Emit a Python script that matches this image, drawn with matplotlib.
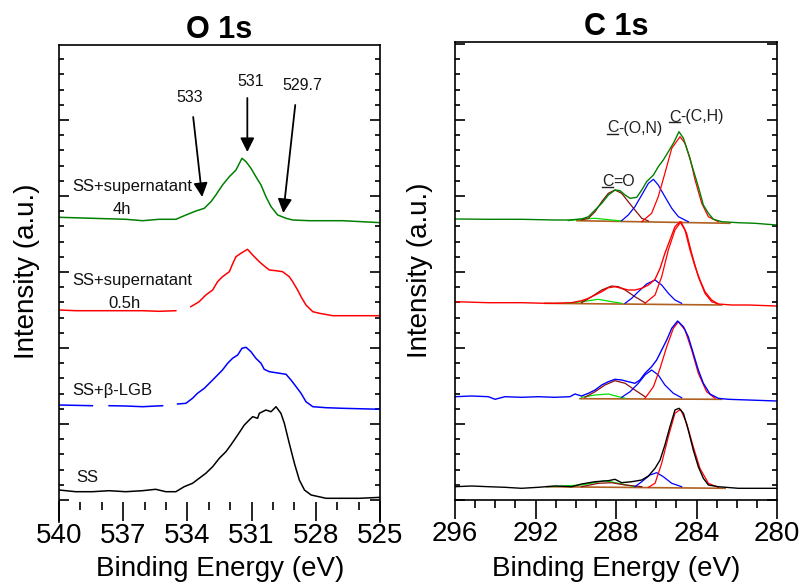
import numpy as np
import matplotlib
matplotlib.use("Agg")
import matplotlib.pyplot as plt
from matplotlib.lines import Line2D

plt.rcParams['font.family'] = ['Liberation Sans', 'DejaVu Sans']

# ---------------- O 1s spectra (stacked, a.u.) ----------------
o_ss_4h_E = [540.0, 538.44, 536.88, 536.10, 535.32, 534.54, 534.07, 533.60, 533.21, 532.90,
             532.67, 532.36, 532.04, 531.73, 531.45, 531.26, 531.03, 530.80, 530.56, 530.33,
             530.09, 529.78, 529.39, 529.08, 528.30, 526.74, 524.95]
o_ss_4h_I = [284.7, 283.7, 282.7, 281.3, 282.7, 282.7, 287.0, 291.0, 293.7, 300.3,
             307.0, 317.0, 325.3, 332.0, 343.7, 340.3, 333.7, 325.3, 317.0, 305.3,
             295.3, 287.0, 283.7, 282.0, 281.3, 281.3, 279.3]

o_ss_05h_E = [540.0, 539.22, 538.44, 537.66, 536.88, 536.10, 535.32, 534.54, 534.30, 533.84,
              533.45, 533.14, 532.82, 532.59, 532.36, 532.04, 531.89, 531.73, 531.50, 531.19,
              530.95, 530.64, 530.41, 530.17, 529.86, 529.55, 529.24, 529.08, 528.85, 528.69,
              528.46, 528.14, 527.83, 527.21, 524.95]
o_ss_05h_I = [192.0, 191.3, 191.3, 191.3, 191.3, 191.3, 190.7, 191.3, np.nan, 195.3,
              200.3, 207.0, 212.0, 220.3, 225.3, 230.3, 238.0, 245.3, 248.7, 252.7,
              247.0, 240.3, 236.0, 232.0, 231.3, 230.3, 225.3, 220.3, 212.0, 205.3,
              197.0, 190.3, 188.7, 186.3, 186.3]

o_ss_lgb_E = [540.0, 538.44, 538.10, 537.66, 536.88, 536.10, 535.16, 534.80, 534.46, 534.07,
              533.76, 533.53, 533.21, 532.90, 532.59, 532.36, 532.12, 531.89, 531.65, 531.45,
              531.26, 531.03, 530.80, 530.56, 530.41, 530.17, 529.86, 529.39, 529.16, 528.92,
              528.69, 528.46, 528.14, 527.52, 526.74, 524.95]
o_ss_lgb_I = [97.0, 96.3, np.nan, 96.3, 96.0, 95.3, 96.3, np.nan, 98.0, 98.7,
              103.7, 108.7, 113.7, 120.3, 127.0, 132.0, 138.7, 143.7, 147.0, 153.7,
              154.7, 150.3, 143.7, 138.7, 132.7, 130.3, 129.3, 127.7, 122.0, 115.3,
              108.7, 100.3, 95.3, 94.3, 93.7, 92.7]

o_ss_E = [540.0, 539.22, 538.44, 537.66, 536.88, 536.10, 535.48, 535.01, 534.54, 534.15,
          533.76, 533.45, 533.14, 532.82, 532.51, 532.20, 531.97, 531.65, 531.34, 531.11,
          530.95, 530.72, 530.64, 530.33, 530.09, 529.86, 529.63, 529.47, 529.24, 529.00,
          528.77, 528.53, 528.22, 527.52, 526.74, 525.96, 524.95]
o_ss_I = [12.0, 10.3, 10.3, 11.3, 10.3, 11.3, 12.7, 10.3, 10.3, 15.3,
          18.7, 23.7, 28.7, 35.3, 43.7, 50.3, 57.0, 67.0, 77.0, 82.0,
          85.3, 83.7, 88.7, 92.0, 90.3, 95.3, 88.7, 78.7, 58.7, 38.7,
          22.0, 12.0, 7.0, 3.7, 3.7, 3.7, 4.7]

o_spectra = [(o_ss_4h_E, o_ss_4h_I, '#008000'),
             (o_ss_05h_E, o_ss_05h_I, '#ff0000'),
             (o_ss_lgb_E, o_ss_lgb_I, '#0000ff'),
             (o_ss_E, o_ss_I, '#000000')]

o_labels = [("SS+supernatant", 539.39, 315), ("4h", 537.08, 292),
            ("SS+supernatant", 539.39, 221), ("0.5h", 536.96, 199),
            ("SS+\u03b2-LGB", 539.39, 111), ("SS", 539.20, 25)]
# (text, text E, text I, tail E, tail I, tip E, tip I)
o_arrows = [("533", 533.87, 405, 533.73, 385, 533.31, 305),
            ("531", 531.06, 421, 531.20, 404, 531.20, 350),
            ("529.7", 528.63, 416, 528.96, 397, 529.52, 289)]

# ---------------- C 1s spectra ----------------
# spectrum 1 (SS+supernatant 4h)
c1_E = [296.00, 294.34, 292.69, 291.03, 290.37, 289.71, 289.37, 289.04, 288.71, 288.38,
        288.05, 287.80, 287.55, 287.30, 286.97, 286.72, 286.48, 286.14, 285.90, 285.65,
        285.40, 285.15, 284.87, 284.65, 284.41, 284.16, 283.91, 283.66, 283.41, 283.16,
        282.75, 281.92, 281.09, 280.02]
c1_I = [281.0, 280.7, 280.7, 280.0, 280.0, 281.0, 283.3, 290.0, 296.7, 305.0,
        310.0, 309.3, 305.0, 301.7, 302.7, 310.0, 318.3, 325.0, 333.3, 340.0,
        348.3, 356.7, 368.3, 361.7, 346.7, 330.0, 313.3, 295.0, 286.7, 280.7,
        278.3, 277.3, 276.7, 275.0]
c1_ch_E = [286.72, 286.23, 285.90, 285.57, 285.23, 284.82, 284.57, 284.32, 284.07, 283.74, 283.41, 282.92]
c1_ch_I = [278.3, 286.7, 303.3, 326.7, 351.7, 363.3, 356.7, 341.7, 320.0, 296.7, 283.3, 278.3]
c1_con_E = [287.72, 287.39, 287.06, 286.72, 286.39, 286.14, 285.90, 285.57, 285.23, 284.90, 284.41]
c1_con_I = [279.3, 285.0, 293.3, 305.0, 316.7, 320.7, 315.0, 303.3, 291.7, 283.3, 278.3]
c1_co_E = [289.71, 289.37, 289.04, 288.71, 288.38, 288.05, 287.72, 287.39, 287.06, 286.72, 286.39]
c1_co_I = [280.0, 281.7, 288.3, 298.3, 306.7, 310.0, 306.7, 298.3, 290.0, 281.7, 279.0]
c1_ooc_E = [290.37, 289.71, 289.04, 288.22, 287.72]
c1_ooc_I = [279.3, 281.0, 281.7, 280.0, 279.0]
c1_bg_E = [289.95, 282.34]
c1_bg_I = [279.3, 276.7]

# spectrum 2 (SS+supernatant 0.5h)
c2_E = [296.00, 294.34, 292.69, 291.53, 291.03, 290.20, 289.71, 289.37, 289.04, 288.71,
        288.38, 288.05, 287.72, 287.39, 287.06, 286.72, 286.39, 286.06, 285.81, 285.57,
        285.32, 285.07, 284.82, 284.57, 284.32, 284.07, 283.83, 283.58, 283.25, 282.92,
        282.25, 281.42, 280.02]
c2_I = [198.3, 197.3, 197.3, 196.7, 196.7, 197.3, 199.3, 201.7, 205.0, 208.3,
        212.3, 213.3, 211.7, 210.0, 210.0, 211.7, 215.0, 220.7, 231.7, 246.7,
        260.0, 273.3, 278.3, 270.0, 250.0, 233.3, 220.0, 208.3, 200.0, 196.0,
        195.0, 195.0, 194.0]
c2_ch_E = [286.56, 286.06, 285.73, 285.40, 285.07, 284.77, 284.49, 284.24, 283.91, 283.58, 283.25, 282.92]
c2_ch_I = [196.7, 205.0, 223.3, 250.0, 270.0, 278.3, 266.7, 246.7, 223.3, 206.7, 198.3, 196.0]
c2_con_E = [287.55, 287.22, 286.89, 286.48, 286.06, 285.73, 285.40, 285.07, 284.74]
c2_con_I = [196.7, 201.7, 208.3, 216.0, 220.0, 215.0, 206.7, 200.0, 196.7]
c2_co_E = [289.71, 289.21, 288.71, 288.22, 287.88, 287.55, 287.06, 286.56]
c2_co_I = [197.3, 203.3, 210.0, 214.0, 213.3, 210.0, 203.3, 197.3]
c2_ooc_E = [290.53, 289.71, 288.88, 288.22, 287.72]
c2_ooc_I = [196.7, 198.3, 200.7, 198.3, 196.7]
c2_bg_E = [291.53, 282.75]
c2_bg_I = [196.7, 195.0]

# spectrum 3 (SS+b-LGB)
c3_E = [296.00, 295.17, 294.34, 294.01, 293.52, 292.69, 291.86, 291.03, 290.29, 290.04,
        289.71, 289.37, 289.04, 288.71, 288.38, 288.05, 287.72, 287.39, 287.06, 286.81,
        286.56, 286.23, 285.98, 285.73, 285.48, 285.23, 284.94, 284.65, 284.41, 284.16,
        283.91, 283.66, 283.33, 282.92, 282.42, 281.42, 280.02]
c3_I = [103.3, 104.0, 103.3, 100.7, 103.3, 102.7, 103.3, 102.7, 103.3, 106.0,
        104.0, 106.7, 110.0, 115.0, 118.3, 120.7, 120.0, 118.3, 116.7, 120.0,
        126.7, 133.3, 140.0, 150.0, 160.0, 171.7, 179.0, 173.3, 163.3, 146.7,
        130.0, 116.7, 106.0, 101.7, 100.7, 100.0, 99.0]
c3_ch_E = [286.56, 286.14, 285.81, 285.48, 285.15, 284.90, 284.57, 284.24, 283.91, 283.50, 283.08]
c3_ch_I = [101.7, 113.3, 131.7, 153.3, 171.7, 178.3, 170.0, 150.0, 126.7, 108.3, 101.7]
c3_con_E = [287.72, 287.30, 286.89, 286.56, 286.23, 285.90, 285.57, 285.15, 284.74]
c3_con_I = [102.7, 108.3, 116.7, 125.0, 130.0, 125.0, 115.0, 106.7, 102.3]
c3_co_E = [289.54, 289.04, 288.55, 288.05, 287.55, 287.06, 286.56]
c3_co_I = [102.7, 108.3, 115.0, 119.3, 116.7, 110.0, 103.3]
c3_ooc_E = [289.71, 289.04, 288.38, 287.88, 287.55]
c3_ooc_I = [102.7, 105.0, 106.0, 103.3, 101.7]
c3_bg_E = [289.79, 282.75]
c3_bg_I = [101.3, 100.7]

# spectrum 4 (SS)
c4_E = [296.00, 295.17, 294.34, 293.52, 292.69, 291.86, 291.03, 290.20, 289.71, 289.04,
        288.38, 288.05, 287.72, 287.22, 286.72, 286.39, 286.06, 285.81, 285.57, 285.32,
        285.07, 284.87, 284.65, 284.41, 284.16, 283.91, 283.66, 283.41, 282.92, 281.92, 280.02]
c4_I = [13.3, 14.0, 13.3, 12.7, 11.7, 12.7, 14.0, 13.3, 16.0, 18.3,
        19.3, 20.7, 17.3, 18.3, 20.0, 24.0, 31.7, 40.0, 55.0, 73.3,
        90.0, 91.7, 86.7, 70.0, 50.0, 33.3, 21.7, 15.0, 13.3, 11.7, 11.7]
c4_ch_E = [286.39, 286.06, 285.73, 285.40, 285.07, 284.79, 284.49, 284.16, 283.83, 283.41, 282.92]
c4_ch_I = [12.7, 16.7, 36.7, 63.3, 86.7, 90.7, 76.7, 53.3, 31.7, 16.7, 12.7]
c4_con_E = [287.06, 286.72, 286.31, 285.98, 285.65, 285.23, 284.74]
c4_con_I = [13.3, 18.3, 25.0, 27.3, 23.3, 16.7, 13.3]
c4_co_E = [289.71, 288.88, 288.22, 287.55, 286.72]
c4_co_I = [13.3, 16.7, 17.3, 15.0, 13.3]
c4_ooc_E = [291.36, 289.71, 288.55, 287.88, 287.06]
c4_ooc_I = [13.3, 15.0, 19.3, 16.7, 13.3]
c4_bg_E = [291.45, 282.58]
c4_bg_I = [13.3, 11.7]

c_spectra = [
    dict(E=c1_E, I=c1_I, color='#008000', ch=(c1_ch_E, c1_ch_I), con=(c1_con_E, c1_con_I),
         co=(c1_co_E, c1_co_I), ooc=(c1_ooc_E, c1_ooc_I), bg=(c1_bg_E, c1_bg_I)),
    dict(E=c2_E, I=c2_I, color='#ff0000', ch=(c2_ch_E, c2_ch_I), con=(c2_con_E, c2_con_I),
         co=(c2_co_E, c2_co_I), ooc=(c2_ooc_E, c2_ooc_I), bg=(c2_bg_E, c2_bg_I)),
    dict(E=c3_E, I=c3_I, color='#0000ff', ch=(c3_ch_E, c3_ch_I), con=(c3_con_E, c3_con_I),
         co=(c3_co_E, c3_co_I), ooc=(c3_ooc_E, c3_ooc_I), bg=(c3_bg_E, c3_bg_I)),
    dict(E=c4_E, I=c4_I, color='#000000', ch=(c4_ch_E, c4_ch_I), con=(c4_con_E, c4_con_I),
         co=(c4_co_E, c4_co_I), ooc=(c4_ooc_E, c4_ooc_I), bg=(c4_bg_E, c4_bg_I)),
]
# (underlined part, rest, E, I)
c_labels = [("C", "=O", 288.70, 319), ("C", "-(O,N)", 288.45, 372), ("C", "-(C,H)", 285.37, 383)]

comp_colors = {'ch': '#ff0000', 'con': '#0000ff', 'co': '#8b1010', 'ooc': '#00e000', 'bg': '#b06020'}

fig = plt.figure(figsize=(8.05, 5.86), dpi=100)
W, H = 805, 586
ax_o = fig.add_axes([59 / W, 1 - 502 / H, 321 / W, 457 / H])
ax_c = fig.add_axes([455 / W, 1 - 500 / H, 322 / W, 458 / H])

# --- O 1s ---
for E, I, col in o_spectra:
    ax_o.plot(E, I, color=col, lw=1.1)
for txt, x, y in o_labels:
    ax_o.text(x, y, txt, fontsize=12, ha='left' if txt.startswith('SS') else 'center',
              va='center', color='#111111')
for txt, tx, ty, ax0, ay0, ax1, ay1 in o_arrows:
    ax_o.text(tx, ty, txt, fontsize=11.5, ha='center', va='center', color='#111111')
    ax_o.annotate('', xy=(ax1, ay1), xytext=(ax0, ay0),
                  arrowprops=dict(arrowstyle='-|>,head_length=0.6,head_width=0.3',
                                  color='black', lw=1.3, mutation_scale=14,
                                  shrinkA=0, shrinkB=0))
ax_o.set_xlim(540, 525)
ax_o.set_ylim(0, 457)
ax_o.set_xticks([540, 537, 534, 531, 528, 525])
ax_o.set_xticks(np.arange(525, 541, 1), minor=True)
ax_o.set_yticks(np.arange(2, 457, 76))
ax_o.set_yticks(np.arange(2, 457, 15.2), minor=True)
ax_o.spines['bottom'].set_visible(False)
for x in (0, 1):
    ax_o.add_line(Line2D([x, x], [0, -20 / 457], transform=ax_o.transAxes,
                         color='black', lw=1.2, clip_on=False))
ax_o.set_title("O 1s", fontsize=22, fontweight='bold', pad=5)

# --- C 1s ---
for sp in c_spectra:
    ax_c.plot(*sp['bg'], color=comp_colors['bg'], lw=1.2)
    ax_c.plot(*sp['ooc'], color=comp_colors['ooc'], lw=0.9)
    ax_c.plot(*sp['co'], color=comp_colors['co'], lw=0.9)
    ax_c.plot(*sp['con'], color=comp_colors['con'], lw=0.9)
    ax_c.plot(*sp['ch'], color=comp_colors['ch'], lw=0.9)
    ax_c.plot(sp['E'], sp['I'], color=sp['color'], lw=1.0)
ax_c.set_xlim(296, 280)
ax_c.set_ylim(0, 458)
ax_c.set_xticks([296, 292, 288, 284, 280])
ax_c.set_xticks(np.arange(280, 297, 1), minor=True)
ax_c.set_yticks(np.arange(0, 458, 76))
ax_c.set_yticks(np.arange(0, 458, 15.2), minor=True)
ax_c.set_title("C 1s", fontsize=22, fontweight='bold', pad=5)

label_texts = []
for ul, rest, x, y in c_labels:
    t0 = ax_c.text(x, y, ul, fontsize=11.5, ha='left', va='center', color='#222222')
    label_texts.append((t0, rest))

for ax in (ax_o, ax_c):
    ax.set_yticklabels([])
    ax.tick_params(axis='y', which='both', direction='in', left=True, right=True,
                   labelleft=False, width=1.2, color='black')
    ax.tick_params(axis='y', which='major', length=7)
    ax.tick_params(axis='y', which='minor', length=3.5)
    ax.tick_params(axis='x', which='both', direction='out', width=1.2, top=False)
    ax.tick_params(axis='x', which='major', length=14, labelsize=20, pad=1)
    ax.tick_params(axis='x', which='minor', length=6)
    for s in ax.spines.values():
        s.set_linewidth(1.2)

fig.text(220 / W, 1 - 569 / H, "Binding Energy (eV)", fontsize=20, ha='center', va='center')
fig.text(616 / W, 1 - 569 / H, "Binding Energy (eV)", fontsize=20, ha='center', va='center')
fig.text(27 / W, 1 - 271 / H, "Intensity (a.u.)", fontsize=20, rotation=90, ha='center', va='center')
fig.text(420 / W, 1 - 270 / H, "Intensity (a.u.)", fontsize=20, rotation=90, ha='center', va='center')

# place the rest of each C 1s label after its underlined "C" and draw the underline
fig.canvas.draw()
r = fig.canvas.get_renderer()
inv = fig.transFigure.inverted()
for t0, rest in label_texts:
    bb = t0.get_window_extent(r)
    x1, yc = inv.transform((bb.x1, (bb.y0 + bb.y1) / 2))
    fig.text(x1, yc, rest, fontsize=11.5, ha='left', va='center', color='#222222')
    (ux0, uy), (ux1, _) = inv.transform([(bb.x0 + 0.5, bb.y0 + 2), (bb.x1 - 0.5, bb.y0 + 2)])
    fig.add_artist(Line2D([ux0, ux1], [uy, uy], color='#222222', lw=1.0))

fig.savefig("out.png", dpi=100)
